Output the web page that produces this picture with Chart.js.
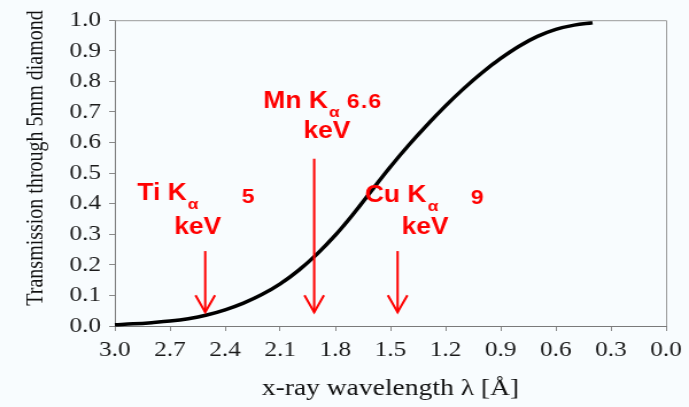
<!DOCTYPE html>
<html>
<head>
<meta charset="utf-8">
<script src="https://cdn.jsdelivr.net/npm/chart.js@4/dist/chart.umd.min.js"></script>
<style>
  html, body { margin: 0; padding: 0; background: #f8fcfe; overflow: hidden; }
  /* the figure is laid out at 600px and widened to the 689px page */
  #wrap { width: 600px; height: 407px; transform: scaleX(1.148333); transform-origin: 0 0; }
  canvas { display: block; }
</style>
</head>
<body>
<div id="wrap"><canvas id="c" width="600" height="407"></canvas></div>
<script>
// X-ray wavelength in Angstrom
const wavelength = [3.0, 2.9, 2.8, 2.7, 2.6, 2.5, 2.4, 2.3, 2.2, 2.1, 2.0, 1.9, 1.8, 1.7,
                    1.6, 1.5, 1.4, 1.3, 1.2, 1.1, 1.0, 0.9, 0.8, 0.7, 0.6, 0.5, 0.4];
// Transmission through a 5 mm diamond window
const transmission = [0.004, 0.007, 0.011, 0.016, 0.024, 0.036, 0.053, 0.075, 0.103, 0.138, 0.182,
                      0.235, 0.297, 0.368, 0.445, 0.521, 0.592, 0.658, 0.720, 0.777, 0.829, 0.875,
                      0.915, 0.947, 0.970, 0.984, 0.992];

const xTickValues = [3.0, 2.7, 2.4, 2.1, 1.8, 1.5, 1.2, 0.9, 0.6, 0.3, 0.0];
const yTickValues = [0.0, 0.1, 0.2, 0.3, 0.4, 0.5, 0.6, 0.7, 0.8, 0.9, 1.0];

// Characteristic lines: element, energy (keV), arrow wavelength and arrow extent
const lineElement = ['Ti', 'Mn', 'Cu'];
const lineEnergy = ['5', '6.6', '9'];
const arrowLambda = [2.508, 1.915, 1.461];
const arrowTop = [0.245, 0.547, 0.245];
const arrowTip = [0.045, 0.045, 0.045];

// Label anchors (wavelength, transmission) for each characteristic line
const labelAnchor = [
  { name: [2.878, 0.412], energy: [2.31, 0.403], unit: [2.677, 0.302] },
  { name: [2.192, 0.714], energy: [1.737, 0.714], unit: [1.974, 0.615] },
  { name: [1.639, 0.407], energy: [1.063, 0.400], unit: [1.439, 0.302] }
];

const RED = '#ff0000';
const BG = '#f8fcfe';
const SERIF = 'Liberation Serif, Times New Roman, serif';

const decorations = {
  id: 'decorations',
  beforeDraw(chart) {
    const ctx = chart.ctx;
    ctx.save();
    ctx.fillStyle = BG;
    ctx.fillRect(0, 0, chart.width, chart.height);
    ctx.restore();
  },
  afterDraw(chart) {
    const ctx = chart.ctx;
    const xs = chart.scales.x, ys = chart.scales.y;
    const a = chart.chartArea;
    ctx.save();

    // frame on the top and right edges of the plot
    ctx.strokeStyle = '#9a9a9a';
    ctx.lineWidth = 1;
    ctx.beginPath();
    ctx.moveTo(a.left, a.top + 0.5);
    ctx.lineTo(a.right + 0.5, a.top + 0.5);
    ctx.lineTo(a.right + 0.5, a.bottom);
    ctx.stroke();

    // vertical axis title
    ctx.fillStyle = '#111';
    ctx.font = '20px ' + SERIF;
    ctx.textAlign = 'center';
    ctx.textBaseline = 'middle';
    ctx.translate(32, 158);
    ctx.rotate(-Math.PI / 2);
    ctx.fillText('Transmission through 5mm diamond', 0, 0);
    ctx.setTransform(1, 0, 0, 1, 0, 0);

    // arrows marking the characteristic lines
    ctx.strokeStyle = RED;
    ctx.lineWidth = 2;
    ctx.lineCap = 'butt';
    ctx.lineJoin = 'miter';
    for (let i = 0; i < arrowLambda.length; i++) {
      const x = xs.getPixelForValue(arrowLambda[i]);
      const y0 = ys.getPixelForValue(arrowTop[i]);
      const y1 = ys.getPixelForValue(arrowTip[i]);
      ctx.beginPath();
      ctx.moveTo(x, y0);
      ctx.lineTo(x, y1);
      ctx.stroke();
      ctx.beginPath();
      ctx.moveTo(x - 8.5, y1 - 17);
      ctx.lineTo(x, y1);
      ctx.lineTo(x + 8.5, y1 - 17);
      ctx.stroke();
    }

    // line labels
    ctx.fillStyle = RED;
    ctx.textAlign = 'left';
    ctx.textBaseline = 'alphabetic';
    const big = 'bold 23px Liberation Sans, Arial, sans-serif';
    const sub = 'bold 15px Liberation Sans, Arial, sans-serif';
    const num = 'bold 20px Liberation Sans, Arial, sans-serif';
    for (let i = 0; i < lineElement.length; i++) {
      const p = labelAnchor[i];
      const x = xs.getPixelForValue(p.name[0]);
      const y = ys.getPixelForValue(p.name[1]);
      ctx.font = big;
      const head = lineElement[i] + ' K';
      ctx.fillText(head, x, y);
      const w = ctx.measureText(head).width;
      ctx.font = sub;
      ctx.fillText('\u03b1', x + w + 1, y + 9);

      ctx.font = num;
      ctx.letterSpacing = '1px';
      ctx.fillText(lineEnergy[i], xs.getPixelForValue(p.energy[0]), ys.getPixelForValue(p.energy[1]));
      ctx.letterSpacing = '0px';

      ctx.font = big;
      ctx.fillText('keV', xs.getPixelForValue(p.unit[0]), ys.getPixelForValue(p.unit[1]));
    }
    ctx.restore();
  }
};

new Chart(document.getElementById('c'), {
  type: 'line',
  data: {
    datasets: [{
      data: wavelength.map((w, i) => ({ x: w, y: transmission[i] })),
      borderColor: '#000',
      borderWidth: 3.5,
      pointRadius: 0,
      fill: false,
      tension: 0.4,
      borderCapStyle: 'butt',
      clip: false
    }]
  },
  options: {
    responsive: false,
    animation: false,
    events: [],
    layout: { padding: { top: 19, right: 20, bottom: 0, left: 0 } },
    plugins: { legend: { display: false }, tooltip: { enabled: false } },
    scales: {
      x: {
        type: 'linear',
        reverse: true,
        min: 0,
        max: 3,
        afterBuildTicks: s => { s.ticks = xTickValues.map(v => ({ value: v })); },
        afterFit: s => { s.height = 81; },
        ticks: {
          color: '#1a1a1a',
          font: { family: SERIF, size: 22 },
          padding: 6,
          maxRotation: 0,
          autoSkip: false,
          callback: v => Number(v).toFixed(1)
        },
        grid: { display: true, drawOnChartArea: false, drawTicks: true, tickLength: 5, color: '#8a8a8a', lineWidth: 1 },
        border: { display: true, color: '#7a7a7a', width: 1 },
        title: {
          display: true,
          text: 'x-ray wavelength \u03bb [\u00c5]',
          color: '#111',
          font: { family: SERIF, size: 24 },
          padding: { top: 0, bottom: 4 }
        }
      },
      y: {
        type: 'linear',
        min: 0,
        max: 1,
        afterBuildTicks: s => { s.ticks = yTickValues.map(v => ({ value: v })); },
        afterFit: s => { s.width = 100; },
        ticks: {
          color: '#1a1a1a',
          font: { family: SERIF, size: 22 },
          padding: 7,
          callback: v => Number(v).toFixed(1)
        },
        grid: { display: true, drawOnChartArea: false, drawTicks: true, tickLength: 5, color: '#8a8a8a', lineWidth: 1 },
        border: { display: true, color: '#7a7a7a', width: 1 }
      }
    }
  },
  plugins: [decorations]
});
</script>
</body>
</html>
